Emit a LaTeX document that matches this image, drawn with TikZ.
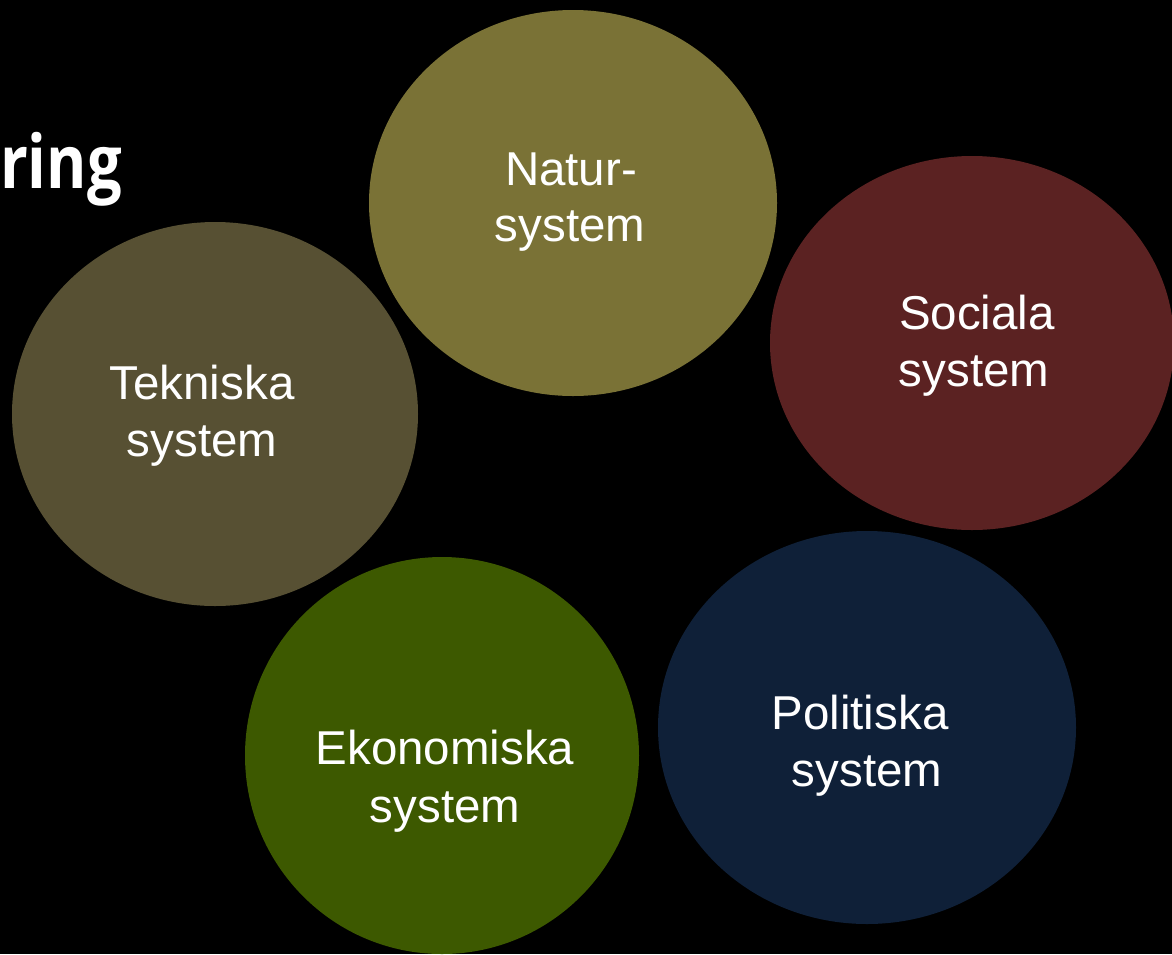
\documentclass[tikz,border=0pt]{standalone}
\usepackage{fontspec}
\setmainfont{Liberation Sans}
\newfontfamily\titlefont[FakeStretch=0.83]{Open Sans}
\definecolor{naturc}{HTML}{7A7236}
\definecolor{socialc}{HTML}{5B2222}
\definecolor{teknikc}{HTML}{575033}
\definecolor{ekonc}{HTML}{3D5900}
\definecolor{politc}{HTML}{0F2038}
\tikzset{
  lbl/.style={text=white, inner sep=0pt, anchor=base, font=\fontsize{47.5}{57}\selectfont},
  ttl/.style={text=white, inner sep=0pt, anchor=base east, font=\titlefont\bfseries\fontsize{74}{90}\selectfont}
}
\begin{document}
\begin{tikzpicture}[x=1pt,y=-1pt]
\useasboundingbox (0,0) rectangle (1172,954);
\fill[black] (0,0) rectangle (1172,954);
% ellipses
\fill[naturc] (573,203) ellipse [x radius=204, y radius=193];
\fill[socialc] (972,343) ellipse [x radius=202, y radius=187];
\fill[teknikc] (215,414) ellipse [x radius=203, y radius=192];
\fill[ekonc] (442,755.5) ellipse [x radius=197, y radius=198.5];
\fill[politc] (867,727.5) ellipse [x radius=209, y radius=196.5];
% title fragment
\node[ttl] (title) at (122,188) {ring};
% labels
\node[lbl] (n1) at (571,185) {Natur-};
\node[lbl] (n2) at (570,241) {system};
\node[lbl] (s1) at (977,329) {Sociala};
\node[lbl] (s2) at (974,386) {system};
\node[lbl] (t1) at (202,399) {Tekniska};
\node[lbl] (t2) at (202,456) {system};
\node[lbl] (e1) at (445,764) {Ekonomiska};
\node[lbl] (e2) at (445,822) {system};
\node[lbl] (p1) at (860,729) {Politiska};
\node[lbl] (p2) at (867,786) {system};
\end{tikzpicture}
\end{document}
